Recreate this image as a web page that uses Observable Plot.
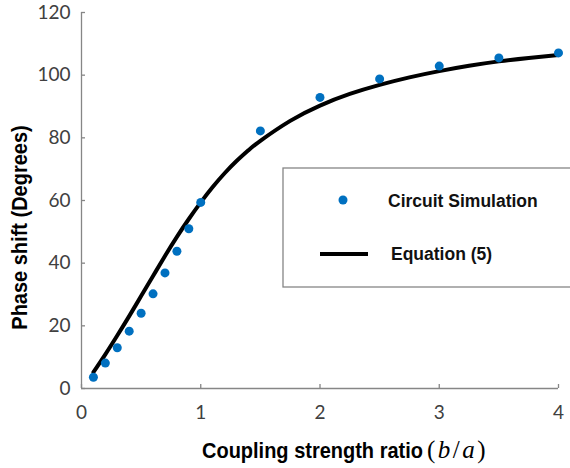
<!DOCTYPE html>
<html><head><meta charset="utf-8">
<script src="https://cdn.jsdelivr.net/npm/d3@7"></script>
<script src="https://cdn.jsdelivr.net/npm/@observablehq/plot@0.6"></script>
<style>body{margin:0;background:#fff} #chart{width:570px;height:468px}</style>
</head><body><div id="chart"></div>
<script>
// Circuit simulation points
const simX = [0.1,0.2,0.3,0.4,0.5,0.6,0.7,0.8,0.9,1.0,1.5,2.0,2.5,3.0,3.5,4.0];
const simY = [3.6,8.1,13.0,18.3,24.0,30.2,36.9,43.8,51.0,59.4,82.2,92.9,98.8,102.9,105.5,107.1];
// Equation (5) curve
const eqX = [0.1,0.2,0.3,0.4,0.5,0.6,0.7,0.8,0.9,1.0,1.1,1.2,1.3,1.4,1.5,1.75,2.0,2.25,2.5,2.75,3.0,3.25,3.5,3.75,4.0];
const eqY = [5.2,10.9,16.9,23.1,29.5,35.9,42.3,48.4,54.1,59.4,64.3,68.7,72.6,76.05,79.05,85.4,90.3,94.0,96.9,99.3,101.3,103.0,104.4,105.5,106.4];
const xTicks = [0,1,2,3,4];
const yTicks = [0,20,40,60,80,100,120];
const seriesNames = ["Circuit Simulation", "Equation (5)"];
const xTitle = "Coupling strength ratio";
const yTitle = "Phase shift (Degrees)";

const sim = simX.map((x, i) => ({x, y: simY[i]}));
const eq = eqX.map((x, i) => ({x, y: eqY[i]}));

const axisGray = "#868686";
const labelGray = "#404040";
const blue = "#0070C0";

const plot = Plot.plot({
  width: 570, height: 468,
  marginLeft: 81, marginRight: 12, marginTop: 12, marginBottom: 80,
  style: {background: "#fff", fontFamily: "Lato, 'Open Sans', sans-serif", fontSize: "19px"},
  x: {domain: [0, 4], label: null},
  y: {domain: [0, 120], label: null},
  marks: [
    Plot.ruleX([0], {stroke: axisGray, strokeWidth: 1.3}),
    Plot.ruleY([0], {stroke: axisGray, strokeWidth: 1.3}),
    Plot.axisX({ticks: xTicks, tickSize: -4, tickFormat: () => "", color: axisGray, label: null, strokeWidth: 1.3}),
    Plot.axisY({ticks: yTicks, tickSize: -4, tickFormat: () => "", color: axisGray, label: null, strokeWidth: 1.3}),
    Plot.axisX({ticks: xTicks, tickSize: 0, tickPadding: 17, tickFormat: d => String(d), color: labelGray, label: null}),
    Plot.axisY({ticks: yTicks, tickSize: 0, tickPadding: 11, tickFormat: d => String(d), color: labelGray, label: null}),
    Plot.line(eq, {x: "x", y: "y", stroke: "#000", strokeWidth: 4, curve: "natural"}),
    Plot.dot(sim, {x: "x", y: "y", r: 4.5, fill: blue})
  ]
});

const svg = d3.select(plot);
const sans = "'Liberation Sans', Arial, sans-serif";

// x title
svg.append("text")
  .attr("transform", "translate(202,458) scale(1,1.12)")
  .attr("text-anchor", "start")
  .attr("font-family", sans).attr("font-weight", "bold").attr("font-size", 20)
  .attr("fill", "#000").text(xTitle);
const math = svg.append("text")
  .attr("x", 427).attr("y", 458)
  .attr("text-anchor", "start")
  .attr("font-family", "'Liberation Serif', 'DejaVu Serif', serif").attr("font-size", 25)
  .attr("letter-spacing", 2.5)
  .attr("fill", "#000");
math.append("tspan").text("(");
math.append("tspan").attr("font-style", "italic").text("b");
math.append("tspan").text("/");
math.append("tspan").attr("font-style", "italic").text("a");
math.append("tspan").text(")");

// y title
svg.append("text")
  .attr("transform", "translate(27,227.5) rotate(-90) scale(1,1.12)")
  .attr("text-anchor", "middle")
  .attr("font-family", sans).attr("font-weight", "bold").attr("font-size", 20)
  .attr("fill", "#000").text(yTitle);

// legend
const lg = svg.append("g").attr("text-anchor", "start");
lg.append("rect").attr("x", 283).attr("y", 168).attr("width", 320).attr("height", 119)
  .attr("fill", "#fff").attr("stroke", axisGray).attr("stroke-width", 1.3);
lg.append("circle").attr("cx", 343).attr("cy", 200).attr("r", 4.5).attr("fill", blue);
lg.append("text").attr("x", 388).attr("y", 206.5)
  .attr("font-family", sans).attr("font-weight", "bold").attr("font-size", 17.5)
  .attr("fill", "#111").text(seriesNames[0]);
lg.append("line").attr("x1", 320).attr("x2", 368).attr("y1", 254).attr("y2", 254)
  .attr("stroke", "#000").attr("stroke-width", 4);
lg.append("text").attr("x", 391).attr("y", 260)
  .attr("font-family", sans).attr("font-weight", "bold").attr("font-size", 17.5)
  .attr("fill", "#111").text(seriesNames[1]);

document.getElementById("chart").append(plot);
</script>
</body></html>
